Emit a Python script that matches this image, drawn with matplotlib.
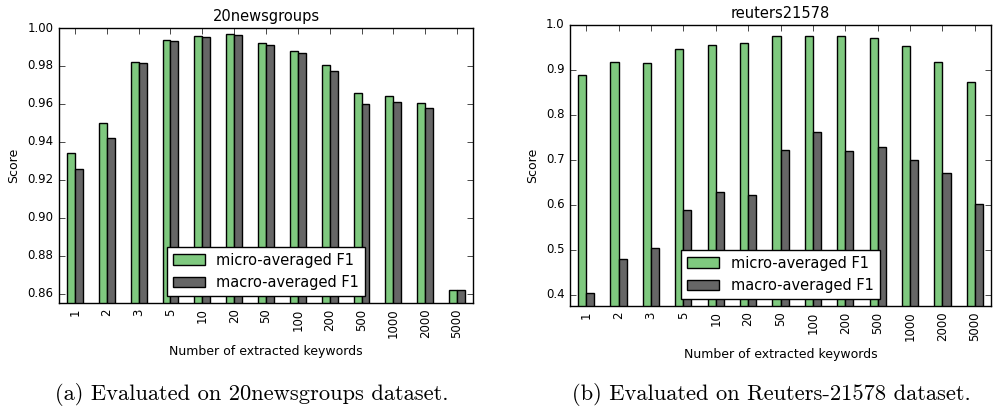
import matplotlib
matplotlib.use("Agg")
import matplotlib.pyplot as plt
import numpy as np
from matplotlib.ticker import FormatStrFormatter

plt.style.use("classic")
plt.rcParams["font.family"] = ["DejaVu Sans"]

keywords = ["1", "2", "3", "5", "10", "20", "50", "100", "200", "500", "1000", "2000", "5000"]

news_micro = [0.934, 0.950, 0.982, 0.9935, 0.996, 0.997, 0.992, 0.988, 0.9805, 0.9655, 0.964, 0.9605, 0.862]
news_macro = [0.9255, 0.942, 0.9815, 0.993, 0.9955, 0.9965, 0.991, 0.987, 0.9775, 0.960, 0.961, 0.958, 0.862]

reut_micro = [0.889, 0.917, 0.916, 0.947, 0.956, 0.959, 0.976, 0.976, 0.976, 0.970, 0.953, 0.918, 0.873]
reut_macro = [0.405, 0.479, 0.503, 0.589, 0.629, 0.621, 0.722, 0.762, 0.720, 0.729, 0.699, 0.670, 0.602]

green = "#7fc97f"
grey = "#666666"
width = 0.25

fig = plt.figure(figsize=(9.97, 4.13), dpi=100)
fig.patch.set_facecolor("white")

ax1 = fig.add_axes([0.0592, 0.2663, 0.4152, 0.6659])
ax2 = fig.add_axes([0.5717, 0.2591, 0.4223, 0.6804])


def draw(ax, micro, macro, title, ylim, yticks, fmt):
    ind = np.arange(len(keywords))
    ax.bar(ind, micro, width, color=green, edgecolor="black", linewidth=1, align="edge",
           label="micro-averaged F1")
    ax.bar(ind + width, macro, width, color=grey, edgecolor="black", linewidth=1, align="edge",
           label="macro-averaged F1")
    ax.set_xticks(ind + width)
    ax.set_xticklabels(keywords, rotation=90, fontsize=8.5)
    ax.set_xlim(-0.25, len(keywords) - 0.25)
    ax.set_ylim(*ylim)
    ax.set_yticks(yticks)
    ax.yaxis.set_major_formatter(FormatStrFormatter(fmt))
    ax.tick_params(axis="y", labelsize=8.5)
    ax.set_title(title, fontsize=10.5)
    ax.set_ylabel("Score", fontsize=9)
    ax.set_xlabel("Number of extracted keywords", fontsize=9)
    ax.legend(loc="lower center", fontsize=10.5, borderaxespad=0.5, handlelength=2.2,
              fancybox=False, framealpha=1)
    ax.set_facecolor("white")


draw(ax1, news_micro, news_macro, "20newsgroups", (0.855, 1.0),
     np.arange(0.86, 1.001, 0.02), "%.2f")
draw(ax2, reut_micro, reut_macro, "reuters21578", (0.375, 1.0),
     np.arange(0.4, 1.001, 0.1), "%.1f")

fig.text(0.2528, 0.044, "(a) Evaluated on 20newsgroups dataset.", ha="center", va="center",
         fontsize=16.2, family=["cmr10", "DejaVu Serif"])
fig.text(0.7733, 0.044, "(b) Evaluated on Reuters-21578 dataset.", ha="center", va="center",
         fontsize=16.2, family=["cmr10", "DejaVu Serif"])

fig.savefig("out.png", dpi=100, facecolor="white")
